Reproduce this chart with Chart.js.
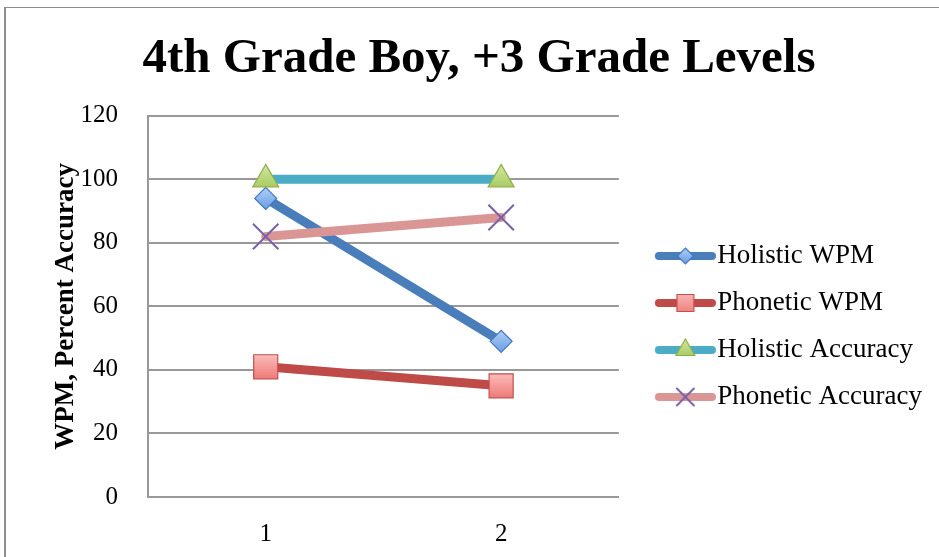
<!DOCTYPE html>
<html><head><meta charset="utf-8">
<script src="https://cdn.jsdelivr.net/npm/chart.js@4/dist/chart.umd.min.js"></script>
<style>
html,body{margin:0;padding:0;background:#fff;overflow:hidden;width:939px;height:557px;}
#wrap{position:absolute;left:0;top:0;width:960px;height:653px;}
#frame{position:absolute;left:4px;top:7px;width:1000px;height:1000px;border-left:2px solid #8f8f8f;border-top:1px solid #8f8f8f;pointer-events:none;}
</style></head><body>
<div id="wrap"><canvas id="c"></canvas></div>
<div id="frame"></div>
<script>
// ---- data ----
const categories = ['1', '2'];
const seriesNames = ['Holistic WPM', 'Phonetic WPM', 'Holistic Accuracy', 'Phonetic Accuracy'];
const holisticWPM = [94, 49];
const phoneticWPM = [41, 35];
const holisticAccuracy = [100, 100];
const phoneticAccuracy = [82, 88];
const yTicks = [0, 20, 40, 60, 80, 100, 120];

const SERIF = "'Liberation Serif', 'Times New Roman', serif";
const LEGEND_SIZE = 27, LEGEND_PAD = 20, BOX_W = 65, CANVAS_H = 653;

const styles = [
  {line: '#4a7ebb', top: '#aed0f8', bot: '#6a9de2', edge: '#4077c0', shape: 'diamond', r: 11, lr: 8},
  {line: '#be4b48', top: '#fbbcba', bot: '#ee7a77', edge: '#c0504d', shape: 'square', r: 17, lr: 12},
  {line: '#4bacc6', top: '#d3e8a0', bot: '#9dc252', edge: '#8db04a', shape: 'triangle', r: 15, lr: 11},
  {line: '#da9694', top: null, bot: null, edge: '#7a62a8', shape: 'x', r: 18, lr: 12}
];
const chartStyle = {diamond: 'rectRot', square: 'rect', triangle: 'triangle', x: 'crossRot'};

function grad(g, st, cy, r) {
  if (!st.top) return 'rgba(0,0,0,0)';
  if (!isFinite(cy)) return st.bot;
  const gr = g.createLinearGradient(0, cy - r, 0, cy + r);
  gr.addColorStop(0, st.top); gr.addColorStop(1, st.bot);
  return gr;
}

function drawMarker(g, st, cx, cy, r) {
  g.save();
  g.fillStyle = grad(g, st, cy, r); g.strokeStyle = st.edge; g.lineWidth = st.shape === 'x' ? 2 : 1.2;
  g.beginPath();
  if (st.shape === 'diamond') {
    g.moveTo(cx, cy - r); g.lineTo(cx + r, cy); g.lineTo(cx, cy + r); g.lineTo(cx - r, cy); g.closePath();
    g.fill(); g.stroke();
  } else if (st.shape === 'square') {
    const s = r * Math.SQRT1_2;
    g.rect(cx - s, cy - s, 2 * s, 2 * s); g.fill(); g.stroke();
  } else if (st.shape === 'triangle') {
    for (let k = 0; k < 3; k++) {
      const a = k * 2 * Math.PI / 3;
      const px = cx + Math.sin(a) * r, py = cy - Math.cos(a) * r;
      k ? g.lineTo(px, py) : g.moveTo(px, py);
    }
    g.closePath(); g.fill(); g.stroke();
  } else {
    const s = r * Math.SQRT1_2;
    g.moveTo(cx - s, cy - s); g.lineTo(cx + s, cy + s);
    g.moveTo(cx + s, cy - s); g.lineTo(cx - s, cy + s); g.stroke();
  }
  g.restore();
}

function makeLegendIcon(st) {
  const W = 89, H = 30, a = 28;
  const c = document.createElement('canvas'); c.width = W; c.height = H;
  const g = c.getContext('2d');
  g.strokeStyle = st.line; g.lineWidth = 8; g.lineCap = 'round';
  g.beginPath(); g.moveTo(a + 4, H / 2); g.lineTo(W - 4, H / 2); g.stroke();
  drawMarker(g, st, a + (W - a) / 2, H / 2, st.lr);
  return c;
}
const icons = styles.map(makeLegendIcon);

// measure legend width so the plot area and title land where the reference has them
const mctx = document.createElement('canvas').getContext('2d');
mctx.font = LEGEND_SIZE + "px " + SERIF;
const maxText = Math.max(...seriesNames.map(s => mctx.measureText(s).width));
const legendW = LEGEND_PAD + BOX_W + LEGEND_SIZE / 2 + maxText + 10;
const padL = Math.max(0, Math.round(339 - legendW));
const canvasW = Math.round(958 - padL);

const cv = document.getElementById('c');
cv.width = canvasW; cv.height = CANVAS_H;
cv.style.width = canvasW + 'px'; cv.style.height = CANVAS_H + 'px';

const values = [holisticWPM, phoneticWPM, holisticAccuracy, phoneticAccuracy];
const datasets = values.map((v, i) => {
  const st = styles[i];
  return {
    label: seriesNames[i],
    data: v,
    order: 4 - i,
    borderColor: st.line,
    borderWidth: 9,
    borderCapStyle: 'round',
    pointStyle: chartStyle[st.shape],
    pointRadius: st.r,
    pointHoverRadius: st.r,
    pointBackgroundColor(ctx) {
      if (!st.top) return 'rgba(0,0,0,0)';
      if (!ctx.parsed || !ctx.chart.scales || !ctx.chart.scales.y) return st.bot;
      const y = ctx.chart.scales.y.getPixelForValue(ctx.parsed.y);
      return grad(ctx.chart.ctx, st, y, st.r * (st.shape === 'square' ? Math.SQRT1_2 : 1));
    },
    pointBorderColor: st.edge,
    pointBorderWidth: st.shape === 'x' ? 2 : 1.2,
    tension: 0,
    fill: false
  };
});

new Chart(cv, {
  type: 'line',
  data: {labels: categories, datasets},
  options: {
    responsive: false,
    animation: false,
    events: [],
    layout: {padding: {left: padL, right: 0, top: 0, bottom: 0}},
    plugins: {
      title: {
        display: true,
        text: '4th Grade Boy, +3 Grade Levels',
        color: '#000',
        font: {family: SERIF, size: 49, weight: 'bold'},
        padding: {top: 30, bottom: 27}
      },
      legend: {
        position: 'right',
        maxWidth: 1000,
        labels: {
          color: '#000',
          font: {family: SERIF, size: LEGEND_SIZE},
          usePointStyle: true,
          pointStyleWidth: BOX_W,
          padding: LEGEND_PAD,
          sort: (a, b) => a.datasetIndex - b.datasetIndex,
          generateLabels(chart) {
            const items = Chart.defaults.plugins.legend.labels.generateLabels(chart);
            items.forEach(it => { it.pointStyle = icons[it.datasetIndex]; });
            return items;
          }
        }
      },
      tooltip: {enabled: false}
    },
    scales: {
      x: {
        offset: true,
        grid: {display: false, drawTicks: false},
        border: {display: true, color: '#999', width: 2},
        ticks: {color: '#000', font: {family: SERIF, size: 25}, padding: 22},
        afterFit(s) { s.height = CANVAS_H - 497; }
      },
      y: {
        min: 0, max: 120,
        afterBuildTicks(s) { s.ticks = yTicks.map(v => ({value: v})); },
        grid: {color: '#999', lineWidth: 2, drawTicks: false},
        border: {display: true, color: '#999', width: 2},
        ticks: {color: '#000', font: {family: SERIF, size: 25}, padding: 30},
        title: {
          display: true,
          text: 'WPM, Percent Accuracy',
          color: '#000',
          font: {family: SERIF, size: 27, weight: 'bold'},
          padding: {top: Math.max(0, 66.5 - padL - 16.2), bottom: 0}
        },
        afterFit(s) { s.width = 148 - padL; }
      }
    }
  }
});
</script>
</body></html>
